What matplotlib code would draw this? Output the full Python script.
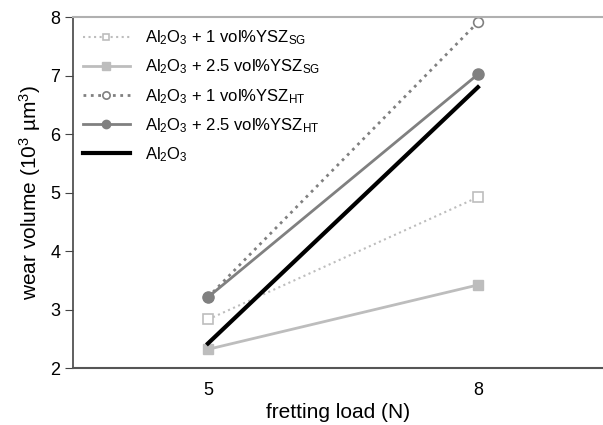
import matplotlib
matplotlib.use("Agg")
import matplotlib.pyplot as plt

plt.rcParams['font.family'] = ['Liberation Sans', 'DejaVu Sans']
plt.rcParams['mathtext.fontset'] = 'custom'
plt.rcParams['mathtext.rm'] = 'Liberation Sans'
plt.rcParams['mathtext.it'] = 'Liberation Sans'

# datos
carga = [5, 8]
sg_1 = [2.83, 4.92]
sg_25 = [2.32, 3.42]
ht_1 = [3.21, 7.91]
ht_25 = [3.21, 7.02]
al2o3 = [2.42, 6.80]

etiquetas = [
    r'Al$_2$O$_3$ + 1 vol%YSZ$_{\rm SG}$',
    r'Al$_2$O$_3$ + 2.5 vol%YSZ$_{\rm SG}$',
    r'Al$_2$O$_3$ + 1 vol%YSZ$_{\rm HT}$',
    r'Al$_2$O$_3$ + 2.5 vol%YSZ$_{\rm HT}$',
    r'Al$_2$O$_3$',
]

gris_claro = '#bdbdbd'
gris = '#808080'

fig = plt.figure(figsize=(6.03, 4.25), dpi=100)
ax = fig.add_axes([0.121, 0.134, 0.879, 0.826])

ax.plot(carga, sg_1, ls=':', lw=1.5, color=gris_claro, marker='s', ms=6.5,
        mfc='white', mec=gris_claro, mew=1.2, label=etiquetas[0])
ax.plot(carga, sg_25, ls='-', lw=2, color=gris_claro, marker='s', ms=7,
        mfc=gris_claro, mec=gris_claro, label=etiquetas[1])
ax.plot(carga, ht_1, ls=':', lw=2, color=gris, marker='o', ms=7,
        mfc='white', mec=gris, mew=1.2, label=etiquetas[2])
ax.plot(carga, ht_25, ls='-', lw=2, color=gris, marker='o', ms=8,
        mfc=gris, mec=gris, label=etiquetas[3])
ax.plot(carga, al2o3, ls='-', lw=3, color='black', label=etiquetas[4])

ax.set_xlim(3.5, 9.39)
ax.set_ylim(2, 8)
ax.set_xticks([5, 8])
ax.set_yticks(range(2, 9))
ax.tick_params(axis='x', length=0, pad=10, labelsize=13)
ax.tick_params(axis='y', length=6, direction='out', color='#444444',
               labelsize=13, pad=3)

ax.spines['right'].set_visible(False)
ax.spines['top'].set_color('#b0b0b0')
ax.spines['top'].set_linewidth(1.5)
ax.spines['bottom'].set_color('#555555')
ax.spines['bottom'].set_linewidth(1.5)
ax.spines['left'].set_color('#444444')
ax.spines['left'].set_linewidth(1.2)

ax.set_xlabel('fretting load (N)', fontsize=15, labelpad=3)
ax.set_ylabel(r'wear volume (10$^3$ µm$^3$)', fontsize=15, labelpad=5)

ax.legend(loc='upper left', frameon=False, fontsize=12, handlelength=2.8,
          handletextpad=0.9, labelspacing=0.62, borderaxespad=0.2,
          markerscale=0.75, bbox_to_anchor=(0.0, 0.995))

fig.savefig('out.png', dpi=100)
